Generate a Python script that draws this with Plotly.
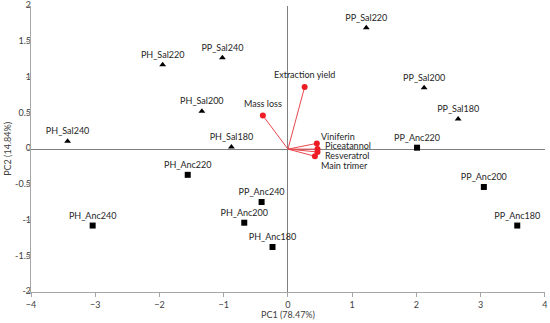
import plotly.graph_objects as go

# Sample scores
sal_labels = ["PH_Sal240", "PH_Sal220", "PP_Sal240", "PH_Sal200", "PH_Sal180",
              "PP_Sal220", "PP_Sal200", "PP_Sal180"]
sal_pc1 = [-3.43, -1.95, -1.02, -1.34, -0.88, 1.22, 2.12, 2.65]
sal_pc2 = [0.11, 1.18, 1.28, 0.53, 0.03, 1.70, 0.86, 0.42]

anc_labels = ["PP_Anc220", "PH_Anc240", "PH_Anc220", "PP_Anc240", "PH_Anc200",
              "PH_Anc180", "PP_Anc200", "PP_Anc180"]
anc_pc1 = [2.01, -3.04, -1.56, -0.41, -0.68, -0.24, 3.05, 3.57]
anc_pc2 = [0.02, -1.07, -0.36, -0.74, -1.03, -1.37, -0.53, -1.07]

# Loadings (variables)
var_labels = ["Extraction yield", "Mass loss", "Viniferin", "Piceatannol", "Resveratrol", "Main trimer"]
var_pc1 = [0.26, -0.39, 0.45, 0.46, 0.46, 0.42]
var_pc2 = [0.87, 0.47, 0.08, 0.00, -0.04, -0.10]

# Axis ticks
x_ticks = [-4, -3, -2, -1, 0, 1, 2, 3, 4]
y_ticks = [-2, -1.5, -1, -0.5, 0, 0.5, 1, 1.5, 2]

# label offsets (style), px
var_xshift = [0, 0, 2, 6, 6, 4]
var_yshift = [12, 12, 7, 4, -4, -9]
var_xanchor = ["center", "center", "left", "left", "left", "left"]

FONT = "Lato"
FS = 9
fig = go.Figure()

# vector lines
lx, ly = [], []
for x, y in zip(var_pc1, var_pc2):
    lx += [0, x, None]
    ly += [0, y, None]
fig.add_trace(go.Scatter(x=lx, y=ly, mode="lines",
                         line=dict(color="#e8484d", width=1), hoverinfo="skip", showlegend=False))
fig.add_trace(go.Scatter(x=var_pc1, y=var_pc2, mode="markers",
                         marker=dict(symbol="circle", size=6, color="#ee1c25"), showlegend=False))

fig.add_trace(go.Scatter(x=sal_pc1, y=sal_pc2, mode="markers+text", text=sal_labels,
                         textposition="top center",
                         textfont=dict(family=FONT, size=FS, color="#262626"),
                         marker=dict(symbol="triangle-up", size=6, color="black"), showlegend=False))
fig.add_trace(go.Scatter(x=anc_pc1, y=anc_pc2, mode="markers+text", text=anc_labels,
                         textposition="top center",
                         textfont=dict(family=FONT, size=FS, color="#262626"),
                         marker=dict(symbol="square", size=6, color="black"), showlegend=False))

# y tick labels as an unclipped text trace placed at the left axis (x = -4)
fig.add_trace(go.Scatter(x=[x_ticks[0]] * len(y_ticks), y=y_ticks, mode="text",
                         text=[f"{v:g}" for v in y_ticks], textposition="middle left",
                         textfont=dict(family=FONT, size=FS, color="#404040"),
                         cliponaxis=False, hoverinfo="skip", showlegend=False))

for i, lab in enumerate(var_labels):
    fig.add_annotation(x=var_pc1[i], y=var_pc2[i], text=lab, showarrow=False,
                       xanchor=var_xanchor[i], yanchor="middle",
                       xshift=var_xshift[i], yshift=var_yshift[i],
                       font=dict(family=FONT, size=FS, color="#262626"))

fig.add_annotation(xref="paper", yref="paper", x=0.5, y=-0.08, text="PC1 (78.47%)",
                   showarrow=False, yanchor="middle", font=dict(family=FONT, size=FS, color="#404040"))
fig.add_annotation(xref="paper", yref="paper", x=-0.047, y=0.5, text="PC2 (14.84%)",
                   showarrow=False, textangle=-90, xanchor="center",
                   font=dict(family=FONT, size=FS, color="#404040"))

fig.update_xaxes(range=[-4, 4.002], tickvals=x_ticks, showgrid=False, zeroline=True,
                 zerolinecolor="#7f7f7f",
                 zerolinewidth=1, showline=True, linecolor="#a6a6a6", linewidth=1,
                 ticks="outside", ticklen=4, tickcolor="#a6a6a6", automargin=False,
                 ticklabeloverflow="allow",
                 tickfont=dict(family=FONT, size=FS, color="#404040"))
fig.update_yaxes(range=[-2, 2.003], tickvals=y_ticks, showgrid=False, zeroline=True,
                 zerolinecolor="#7f7f7f", showticklabels=False,
                 zerolinewidth=1, showline=True, linecolor="#a6a6a6", linewidth=1,
                 ticks="outside", ticklen=4, tickcolor="#a6a6a6", automargin=False)

fig.update_layout(width=550, height=323, margin=dict(l=31, r=5, t=6, b=31, autoexpand=False),
                  plot_bgcolor="white", paper_bgcolor="white")
fig.write_html("out.html", config={"displayModeBar": False},
               post_script="document.body.style.margin='0';document.body.style.padding='0';")
